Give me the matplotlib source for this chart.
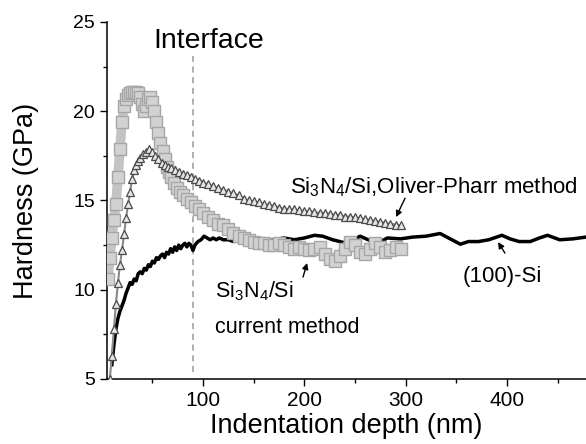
import matplotlib
matplotlib.use('Agg')
import matplotlib.pyplot as plt
from matplotlib.ticker import MultipleLocator

plt.rcParams['font.family'] = ['Liberation Sans', 'DejaVu Sans']
plt.rcParams['mathtext.fontset'] = 'custom'
plt.rcParams['mathtext.rm'] = 'Liberation Sans'
plt.rcParams['mathtext.it'] = 'Liberation Sans'

# Si3N4/Si, current method (gray squares)
depth_cur = [6, 8, 10, 12, 14, 16, 18, 20, 22, 24, 26, 28, 30, 32, 34, 36, 38, 40, 42, 44,
             46, 48, 50, 52, 54, 56, 58, 60, 62, 64, 66, 68, 71, 74, 77, 80, 84, 88, 92, 96,
             100, 105, 110, 115, 120, 125, 130, 135, 140, 145, 150, 155, 160, 165, 170, 175,
             180, 185, 190, 195, 200, 205, 210, 215, 220, 225, 230, 235, 240, 245, 250, 255,
             260, 265, 270, 275, 280, 285, 290, 295]
hard_cur = [10.6, 11.8, 12.9, 13.9, 14.8, 16.3, 17.9, 19.4, 20.3, 20.7, 20.9, 21.0, 21.1, 21.1,
            21.1, 21.0, 20.8, 20.4, 20.0, 20.3, 20.7, 20.8, 20.5, 20.0, 19.4, 18.8, 18.2, 17.8,
            17.3, 16.9, 16.6, 16.3, 16.0, 15.7, 15.5, 15.3, 15.1, 14.9, 14.7, 14.5, 14.3, 14.1,
            13.9, 13.7, 13.6, 13.4, 13.2, 13.0, 12.9, 12.8, 12.7, 12.6, 12.6, 12.5, 12.5, 12.6,
            12.5, 12.4, 12.3, 12.4, 12.3, 12.2, 12.3, 12.4, 12.0, 11.7, 11.6, 11.9, 12.3, 12.7,
            12.5, 12.1, 12.0, 12.3, 12.6, 12.4, 12.1, 12.2, 12.4, 12.3]

# Si3N4/Si, Oliver-Pharr method (triangles)
depth_op = [8, 10, 12, 14, 16, 18, 20, 22, 24, 26, 28, 30, 32, 34, 36, 38, 41, 44, 47, 50,
            53, 56, 59, 62, 65, 68, 72, 76, 80, 84, 88, 92, 96, 100, 105, 110, 115, 120, 125,
            130, 135, 140, 145, 150, 155, 160, 165, 170, 175, 180, 185, 190, 195, 200, 205,
            210, 215, 220, 225, 230, 235, 240, 245, 250, 255, 260, 265, 270, 275, 280, 285,
            290, 295]
hard_op = [5.0, 6.3, 7.8, 9.2, 10.4, 11.4, 12.2, 13.1, 14.0, 14.8, 15.5, 16.2, 16.7, 17.0,
           17.2, 17.4, 17.6, 17.7, 17.9, 17.7, 17.5, 17.3, 17.1, 17.0, 16.9, 16.8, 16.7, 16.6,
           16.5, 16.4, 16.3, 16.2, 16.1, 16.0, 15.9, 15.8, 15.7, 15.6, 15.5, 15.4, 15.3, 15.1,
           15.0, 14.95, 14.9, 14.8, 14.75, 14.7, 14.6, 14.55, 14.5, 14.5, 14.45, 14.4, 14.4,
           14.35, 14.3, 14.3, 14.25, 14.2, 14.2, 14.1, 14.1, 14.05, 14.0, 13.95, 13.9, 13.85,
           13.8, 13.75, 13.7, 13.65, 13.6]

# (100)-Si (black line)
depth_si = [10, 12, 14, 16, 18, 20, 22, 24, 26, 28, 30, 32, 34, 36, 38, 40, 42, 44, 46, 48,
            50, 52, 54, 56, 58, 60, 62, 64, 66, 68, 70, 72, 74, 76, 78, 80, 82, 84, 86, 88,
            90, 92, 95, 98, 101, 104, 107, 110, 113, 116, 120, 125, 130, 135, 140, 150, 160,
            170, 180, 190, 200, 210, 218, 228, 242, 255, 263, 272, 282, 295, 307, 320, 334,
            344, 354, 362, 372, 382, 395, 403, 412, 423, 432, 440, 452, 465, 478]
hard_si = [5.8, 6.9, 7.8, 8.4, 8.8, 9.1, 9.4, 9.8, 10.1, 10.4, 10.3, 10.6, 10.5, 10.9, 11.0,
           10.9, 11.2, 11.1, 11.4, 11.3, 11.6, 11.5, 11.8, 11.7, 11.9, 12.0, 11.8, 12.1, 12.0,
           12.3, 12.1, 12.4, 12.2, 12.5, 12.3, 12.5, 12.6, 12.4, 12.6, 12.5, 12.2, 12.5, 12.7,
           12.8, 13.0, 12.9, 12.8, 12.9, 12.8, 12.9, 12.8, 12.8, 12.7, 12.75, 12.7, 12.8, 12.7,
           12.8, 12.9, 12.8, 12.9, 13.05, 13.0, 12.8, 12.6, 13.0, 12.8, 12.6, 12.9, 12.85,
           12.95, 13.0, 13.15, 12.85, 12.55, 12.7, 12.7, 12.8, 13.05, 12.85, 12.7, 12.7, 12.9,
           13.05, 12.8, 12.85, 12.95]

interface_depth = 90

fig = plt.figure(figsize=(5.86, 4.44), dpi=100)
ax = fig.add_axes([0.1826, 0.1464, 0.8174, 0.8041])

ax.plot(depth_si, hard_si, color='black', lw=2.5, zorder=2)
# gray band: thick line underneath the square markers
ax.plot(depth_cur, hard_cur, color='#c4c4c4', lw=7, solid_joinstyle='round', zorder=3)
ax.plot(depth_cur, hard_cur, ls='none', marker='s', ms=8.5, mfc='#d2d2d2', mec='#a6a6a6',
        mew=1.0, zorder=3)
ax.plot(depth_op, hard_op, color='#8a8a8a', lw=1.5, zorder=4)
ax.plot(depth_op, hard_op, ls='none', marker='^', ms=5.5, mfc='#e6e6e6', mec='#4a4a4a',
        mew=0.9, zorder=4)

ax.plot([interface_depth, interface_depth], [5.4, 23.1], ls=(0, (4, 3)), color='#9a9a9a',
        lw=1.1, zorder=1)

ax.text(106, 23.95, 'Interface', fontsize=20.5, ha='center', va='center')
ax.text(186, 15.41, 'Si$_3$N$_4$/Si,Oliver-Pharr method', fontsize=16, ha='left',
        va='baseline')
ax.text(111.8, 9.59, 'Si$_3$N$_4$/Si', fontsize=15.5, ha='left', va='baseline')
ax.text(111.8, 7.58, 'current method', fontsize=15.5, ha='left', va='baseline')
ax.text(356.7, 10.43, '(100)-Si', fontsize=16, ha='left', va='baseline')

arrow = dict(arrowstyle='-|>', color='black', lw=1.0, mutation_scale=9, shrinkA=0, shrinkB=0)
ax.annotate('', xy=(290.5, 14.07), xytext=(299.4, 15.13), arrowprops=arrow)
ax.annotate('', xy=(202.7, 11.5), xytext=(198.7, 10.71), arrowprops=arrow)
ax.annotate('', xy=(391.2, 12.67), xytext=(398, 12.05), arrowprops=arrow)

ax.set_xlim(5.2, 478)
ax.set_ylim(5, 25)
ax.xaxis.set_major_locator(MultipleLocator(100))
ax.xaxis.set_minor_locator(MultipleLocator(50))
ax.yaxis.set_major_locator(MultipleLocator(5))
ax.yaxis.set_minor_locator(MultipleLocator(2.5))
ax.tick_params(which='major', direction='out', length=5, width=1)
ax.tick_params(which='minor', direction='out', length=3, width=1)
ax.tick_params(axis='x', labelsize=15)
ax.tick_params(axis='y', labelsize=14)
for s in ['top', 'right']:
    ax.spines[s].set_visible(False)
for s in ['left', 'bottom']:
    ax.spines[s].set_linewidth(1.1)

ax.set_xlabel('Indentation depth (nm)', fontsize=19.5, labelpad=2)
ax.set_ylabel('Hardness (GPa)', fontsize=19.5, labelpad=25)

fig.savefig('out.png', dpi=100)
